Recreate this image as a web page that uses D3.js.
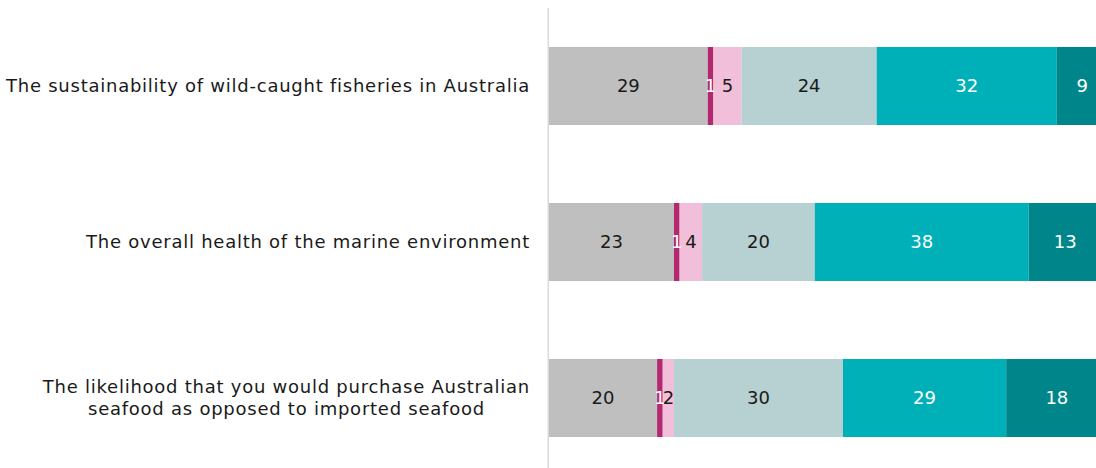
<!DOCTYPE html>
<html>
<head>
<meta charset="utf-8">
<script src="https://cdn.jsdelivr.net/npm/d3@7"></script>
<style>
  html, body { margin: 0; padding: 0; background: #ffffff; }
  svg { display: block; }
  text { font-family: "DejaVu Sans", Verdana, sans-serif; }
</style>
</head>
<body>
<svg id="chart" width="1096" height="468"></svg>
<script>
const categories = [
  ["The sustainability of wild-caught fisheries in Australia"],
  ["The overall health of the marine environment"],
  ["The likelihood that you would purchase Australian", "seafood as opposed to imported seafood"]
];
const seriesNames = ["s1", "s2", "s3", "s4", "s5", "s6"];
const seriesColors = ["#bfbfbf", "#b3286f", "#f1bfd9", "#b7d0d1", "#00b0b9", "#00868a"];
const labelColors = ["#1a1a1a", "#ffffff", "#1a1a1a", "#1a1a1a", "#ffffff", "#ffffff"];
const values = [
  [29, 1, 5, 24, 32, 9],
  [23, 1, 4, 20, 38, 13],
  [20, 1, 2, 30, 29, 18]
];

const W = 1096, H = 468;
const svg = d3.select("#chart");
const x0 = 549;
const x = d3.scaleLinear().domain([0, 100]).range([544.5, 1107.5]);
const y = d3.scaleBand().domain(d3.range(categories.length)).range([8, 476])
  .paddingInner(0.5).paddingOuter(0.25);

const rows = values.map((vals, i) => {
  let acc = 0;
  return vals.map((v, j) => {
    const seg = { row: i, s: j, v: v, start: acc, end: acc + v };
    acc += v;
    return seg;
  });
});

const g = svg.append("g");
rows.forEach((segs, i) => {
  const row = g.append("g");
  const sx = d => Math.max(x(d.start), x0);
  row.selectAll("rect").data(segs).join("rect")
    .attr("x", sx)
    .attr("y", y(i))
    .attr("width", d => x(d.end) - sx(d))
    .attr("height", y.bandwidth())
    .attr("fill", d => seriesColors[d.s]);
  row.selectAll("text").data(segs).join("text")
    .attr("x", d => (sx(d) + x(d.end)) / 2)
    .attr("y", y(i) + y.bandwidth() / 2)
    .attr("dy", "0.35em")
    .attr("text-anchor", "middle")
    .attr("font-size", 18)
    .attr("fill", d => labelColors[d.s])
    .text(d => d.v);
});

// axis line
svg.append("line")
  .attr("x1", x0 - 0.75).attr("x2", x0 - 0.75)
  .attr("y1", 8).attr("y2", H)
  .attr("stroke", "#d9d9d9").attr("stroke-width", 1.5);

// category labels
const labelRight = 530;
categories.forEach((lines, i) => {
  const cy = y(i) + y.bandwidth() / 2;
  const lh = 22;
  const t = svg.append("text")
    .attr("font-size", 18)
    .attr("letter-spacing", "0.75px")
    .attr("fill", "#1a1a1a")
    .attr("text-anchor", "middle");
  lines.forEach((ln, k) => {
    t.append("tspan")
      .attr("x", 0)
      .attr("y", cy + (k - (lines.length - 1) / 2) * lh)
      .attr("dy", "0.35em")
      .text(ln);
  });
  const widths = [];
  t.selectAll("tspan").each(function() { widths.push(this.getComputedTextLength()); });
  const maxW = d3.max(widths);
  t.selectAll("tspan").attr("x", labelRight - maxW / 2);
});
</script>
</body>
</html>
